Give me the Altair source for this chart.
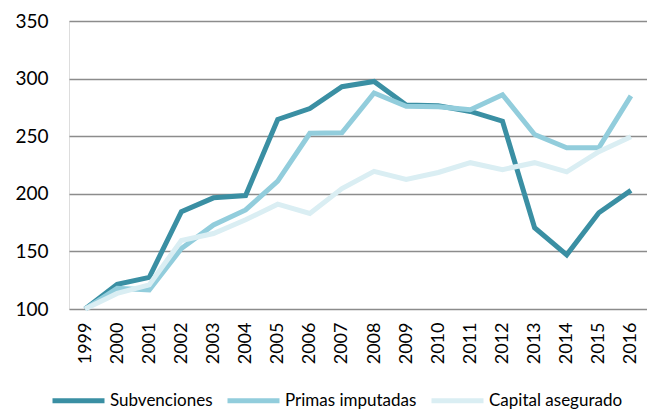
import altair as alt
import pandas as pd

years = [str(y) for y in range(1999, 2017)]
subvenciones = [100, 121.5, 127.5, 184.5, 196.5, 198.5, 264.5, 274, 293, 297.5, 277, 276.5, 271.5, 263, 170.5, 147, 183.5, 203]
primas = [100, 118, 116.5, 152.5, 173, 186, 211, 252.5, 253, 287.5, 276, 275.5, 273, 286, 251.5, 240, 240, 285]
capital = [100, 113.5, 121, 159.5, 165.5, 177.5, 191, 183, 204.5, 219.5, 212.5, 218.5, 227, 221, 227, 219, 236.5, 249.5]

series = ["Subvenciones", "Primas imputadas", "Capital asegurado"]
colors = ["#3A8FA3", "#92CDDC", "#DAEEF3"]

rows = []
for name, vals in zip(series, [subvenciones, primas, capital]):
    for y, v in zip(years, vals):
        rows.append({"Año": y, "Valor": v, "Serie": name})
df = pd.DataFrame(rows)

FONT = "Lato"

chart = alt.Chart(df).mark_line(strokeWidth=5, strokeCap="butt", strokeJoin="miter").encode(
    x=alt.X("Año:O", sort=years, scale=alt.Scale(type="point", padding=0.5),
            axis=alt.Axis(title=None, labelAngle=-90, labelFontSize=18, labelFont=FONT,
                          labelColor="#000000", labelPadding=13, ticks=False,
                          domain=False)),
    y=alt.Y("Valor:Q", scale=alt.Scale(domain=[100, 350], nice=False, zero=False),
            axis=alt.Axis(title=None, values=[100, 150, 200, 250, 300, 350], labelFontSize=19,
                          labelFont=FONT, labelColor="#000000", labelPadding=21, ticks=False,
                          domain=False, grid=True, gridColor="#8C8C8C", gridWidth=1.5)),
    color=alt.Color("Serie:N", sort=series,
                    scale=alt.Scale(domain=series, range=colors),
                    legend=alt.Legend(title=None, orient="none", direction="horizontal",
                                      legendX=-19, legendY=351, symbolType="stroke",
                                      symbolStrokeWidth=5, symbolSize=2704,
                                      labelFontSize=17, labelFont=FONT, labelColor="#000000",
                                      labelOffset=3, columnPadding=4, padding=0)),
    detail="Serie:N",
).properties(
    width=578, height=288,
    autosize=alt.AutoSizeParams(type="none"),
    padding={"left": 61, "top": 13, "right": 0, "bottom": 104},
).configure_view(stroke=None).configure(background="white")

chart.save("out.html", embed_options={"renderer": "svg", "actions": False})
